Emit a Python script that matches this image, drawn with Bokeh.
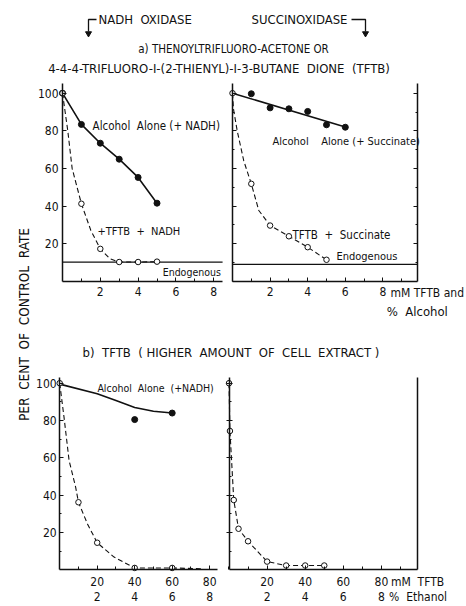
import numpy as np
from bokeh.plotting import figure
from bokeh.models import Range1d, LinearAxis, FixedTicker, Label
from bokeh.embed import file_html
from bokeh.resources import INLINE

FONT = "DejaVu Sans Condensed"
INK = "#111111"
NB = "\u00a0"  # non-breaking space keeps the wide word gaps of the original lettering

# ---------------- data: a) TFTB, NADH oxidase (x: mM TFTB / % alcohol) ----------------
nadh_alc_x = [0, 1, 2, 3, 4, 5]
nadh_alc_y = [100, 83.4, 73.4, 64.9, 55.2, 41.5]
nadh_tftb_x = [0, 1, 2, 3, 4, 5]
nadh_tftb_y = [100, 41.2, 17.2, 10.2, 10.2, 10.4]
nadh_tftb_curve_x = [0, 0.28, 0.51, 1, 1.5, 2, 2.5, 3, 4, 5]
nadh_tftb_curve_y = [100, 80, 60, 41.2, 27, 17.2, 12, 10.2, 10.2, 10.4]
nadh_endog = 10.1

# ---------------- data: a) TFTB, succinoxidase ----------------
succ_alc_x = [1, 2, 3, 4, 5, 6]
succ_alc_y = [99.7, 92.2, 91.7, 90.3, 83.2, 81.9]
succ_alc_fit_x = [0, 6]
succ_alc_fit_y = [100, 82]
succ_tftb_x = [0, 1, 2, 3, 4, 5]
succ_tftb_y = [100, 51.8, 29.6, 23.9, 18.1, 11.4]
succ_tftb_curve_x = [0, 0.05, 0.25, 0.6, 1, 1.4, 2, 3, 4, 5]
succ_tftb_curve_y = [100, 91.7, 80, 64, 51.8, 37.6, 29.6, 23.9, 18.1, 11.4]
succ_endog = 8.9

# ---------------- data: b) higher amount of cell extract (x: mM TFTB) ----------------
b_nadh_alc_x = [40, 60]
b_nadh_alc_y = [80.5, 84]
b_nadh_alc_curve_x = [0, 20, 30, 40, 50, 60]
b_nadh_alc_curve_y = [99.5, 94.3, 90.7, 87, 85, 84]
b_nadh_tftb_x = [0, 10, 20, 40, 60]
b_nadh_tftb_y = [100, 36.2, 14.5, 1, 1]
b_nadh_tftb_curve_x = [0, 2.3, 5, 8.5, 10, 14.8, 20, 29, 40, 60, 76]
b_nadh_tftb_curve_y = [100, 81.8, 58.6, 44.3, 36.2, 24.6, 14.5, 6.8, 1, 1, 0.5]
b_succ_tftb_x = [0, 0.5, 2.5, 5, 10, 20, 30, 40, 50]
b_succ_tftb_y = [100, 74.4, 37.4, 22, 15.3, 4.4, 2.3, 2.3, 2.3]

# ---------------- ticks ----------------
y_ticks = [20, 40, 60, 80, 100]
y_minor = [10, 30, 50, 70, 90]
a_x_ticks = [2, 4, 6, 8]
a_x_minor = [1, 3, 5, 7, 9]
b_x_ticks = [20, 40, 60, 80]
b_x_minor = [10, 30, 50, 70, 90]
b_x_pct_labels = {20: "2", 40: "4", 60: "6", 80: "8"}

# ---------------- layout of the page ----------------
W, H = 466, 606
# panel: (origin px x, px per x unit, origin px y, px per y unit, x extent, y extent)
PANELS = {
    "tl": (62.0, 18.9, 280.7, 1.88, 8.47, 105.3),
    "tr": (232.0, 18.8, 280.7, 1.88, 9.84, 105.3),
    "bl": (59.2, 1.875, 569.3, 1.866, 84.2, 103.0),
    "br": (228.5, 1.905, 569.3, 1.866, 98.8, 103.0),
}

p = figure(width=W, height=H, x_range=Range1d(0, W), y_range=Range1d(H, 0),
           output_backend="svg", toolbar_location=None, min_border=0,
           x_axis_location=None, y_axis_location=None)
p.grid.visible = False
p.outline_line_color = None
p.background_fill_color = "white"
p.border_fill_color = "white"

xr, yr = {}, {}
for k, (x0, kx, y0, ky, xe, ye) in PANELS.items():
    xr[k + "x"] = Range1d(-x0 / kx, (W - x0) / kx)
    yr[k + "y"] = Range1d((y0 - H) / ky, y0 / ky)
p.extra_x_ranges = xr
p.extra_y_ranges = yr


def R(k):
    return dict(x_range_name=k + "x", y_range_name=k + "y")


def wide(s):
    return s.replace("  ", " " + NB)


def axis(k, side, ticks, minor=None, labels=True, tin=4, tout=0, mtin=3, mtout=0,
         standoff=4, overrides=None, line=True, size="12px"):
    x0, kx, y0, ky, xe, ye = PANELS[k]
    horiz = side in ("below", "above")
    if horiz:
        bounds, loc = (0, xe), 0
    else:
        bounds, loc = (0, ye), (xe if side == "right" else 0)
    ax = LinearAxis(ticker=FixedTicker(ticks=ticks, minor_ticks=minor or []),
                    bounds=bounds, fixed_location=loc, **R(k))
    ax.axis_line_color = INK if line else None
    ax.axis_line_width = 1.5
    ax.major_tick_line_color = INK if (tin or tout) else None
    ax.minor_tick_line_color = INK if (mtin or mtout) else None
    ax.major_tick_in = tin
    ax.major_tick_out = tout
    ax.minor_tick_in = mtin
    ax.minor_tick_out = mtout
    ax.major_label_standoff = standoff
    ax.major_label_text_font = FONT
    ax.major_label_text_font_size = size
    ax.major_label_text_color = INK if labels else None
    if overrides:
        ax.major_label_overrides = overrides
    p.add_layout(ax, side)
    return ax


def text(s, x, y, k=None, size="11px", align="left", baseline="middle", angle=0):
    kw = R(k) if k else {}
    p.add_layout(Label(x=x, y=y, text=wide(s), text_font=FONT, text_font_size=size,
                       text_color=INK, text_align=align, text_baseline=baseline,
                       angle=angle, **kw))


def solid(k, x, y):
    p.line(x, y, line_color=INK, line_width=1.6, **R(k))


def dashed(k, x, y):
    p.line(x, y, line_color=INK, line_width=1.1, line_dash="5 3", **R(k))


def filled(k, x, y):
    p.scatter(x, y, size=6, marker="circle", fill_color=INK, line_color=INK, **R(k))


def hollow(k, x, y):
    p.scatter(x, y, size=5.5, marker="circle", fill_color="white", line_color=INK,
              line_width=1, **R(k))


def endogenous(k, level):
    xe = PANELS[k][4]
    p.line([0, xe], [level, level], line_color=INK, line_width=1.2, **R(k))


# ---------------- page texts ----------------
p.line([96, 88, 88], [19, 19, 31], line_color=INK, line_width=1.3)
p.scatter([88], [33], marker="inverted_triangle", size=6, fill_color=INK, line_color=INK)
text("NADH  OXIDASE", 98, 19, size="13px")
text("SUCCINOXIDASE", 347, 19, size="13px", align="right")
p.line([351, 365, 365], [19, 19, 31], line_color=INK, line_width=1.3)
p.scatter([365], [33], marker="inverted_triangle", size=6, fill_color=INK, line_color=INK)
text("a) THENOYLTRIFLUORO-ACETONE OR", 233, 48, size="11.5px", align="center")
text("4-4-4-TRIFLUORO-I-(2-THIENYL)-I-3-BUTANE  DIONE  (TFTB)", 218.5, 68, size="13px", align="center")
text("b)  TFTB  ( HIGHER  AMOUNT  OF  CELL  EXTRACT )", 230.5, 352, size="13px", align="center")
text("PER  CENT  OF  CONTROL  RATE", 23, 324, size="13.5px", align="center", angle=np.pi / 2)

# ---------------- a) NADH oxidase ----------------
axis("tl", "left", y_ticks, standoff=4)
axis("tl", "below", a_x_ticks, a_x_minor, standoff=6)
endogenous("tl", nadh_endog)
solid("tl", nadh_alc_x, nadh_alc_y)
dashed("tl", nadh_tftb_curve_x, nadh_tftb_curve_y)
filled("tl", nadh_alc_x, nadh_alc_y)
hollow("tl", nadh_tftb_x, nadh_tftb_y)
text("Alcohol  Alone (+ NADH)", 1.59, 82.8, "tl", size="11.5px")
text("+TFTB  +  NADH", 1.85, 26.6, "tl", size="11px")
text("Endogenous", 5.3, 5.0, "tl", size="10.5px")

# ---------------- a) succinoxidase ----------------
axis("tr", "left", y_ticks, y_minor, labels=False, mtin=2)
axis("tr", "right", y_ticks, y_minor, labels=False, mtin=2)
axis("tr", "below", a_x_ticks, a_x_minor, standoff=6)
endogenous("tr", succ_endog)
solid("tr", succ_alc_fit_x, succ_alc_fit_y)
dashed("tr", succ_tftb_curve_x, succ_tftb_curve_y)
filled("tr", succ_alc_x, succ_alc_y)
hollow("tr", succ_tftb_x, succ_tftb_y)
text("Alcohol    Alone (+ Succinate)", 2.13, 74.5, "tr", size="11px")
text("TFTB  +  Succinate", 3.19, 24.8, "tr", size="11.5px")
text("Endogenous", 5.53, 13.3, "tr", size="11px")
text("mM TFTB and", 8.4, -6.4, "tr", size="12px")
text("%  Alcohol", 8.2, -16, "tr", size="13px")

# ---------------- b) NADH oxidase ----------------
axis("bl", "left", y_ticks, y_minor, mtin=2, standoff=3)
axis("bl", "below", b_x_ticks, b_x_minor, standoff=7)
axis("bl", "below", b_x_ticks, labels=True, tin=0, mtin=0, standoff=22,
     overrides=b_x_pct_labels, line=False)
solid("bl", b_nadh_alc_curve_x, b_nadh_alc_curve_y)
dashed("bl", b_nadh_tftb_curve_x, b_nadh_tftb_curve_y)
filled("bl", b_nadh_alc_x, b_nadh_alc_y)
hollow("bl", b_nadh_tftb_x, b_nadh_tftb_y)
text("Alcohol  Alone  (+NADH)", 20.1, 97.5, "bl", size="10.5px")

# ---------------- b) succinoxidase ----------------
axis("br", "left", y_ticks, y_minor, labels=False, tin=3, tout=3, mtin=2)
axis("br", "right", [], labels=False, tin=0, mtin=0)
axis("br", "below", b_x_ticks, b_x_minor, standoff=7)
axis("br", "below", b_x_ticks, labels=True, tin=0, mtin=0, standoff=22,
     overrides=b_x_pct_labels, line=False)
dashed("br", b_succ_tftb_x, b_succ_tftb_y)
hollow("br", b_succ_tftb_x, b_succ_tftb_y)
text("mM  TFTB", 85, -6.6, "br", size="12px")
text("%  Ethanol", 84, -14.7, "br", size="12px")

open("out.html", "w").write(file_html(p, INLINE))
